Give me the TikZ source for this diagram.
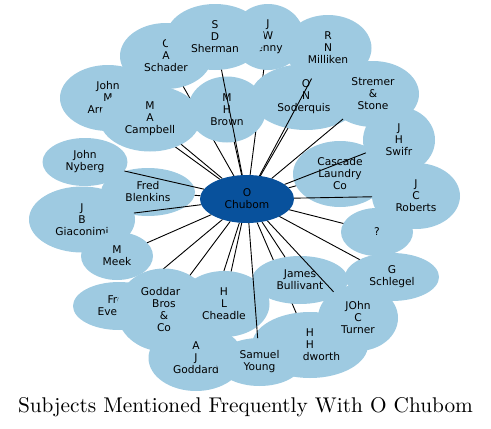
\documentclass[tikz,border=0pt]{standalone}
\usepackage{fontspec}
\newfontfamily\nodefont{DejaVu Sans}
\newfontfamily\titlefont[Extension=.otf]{lmroman10-regular}
\usetikzlibrary{shapes.geometric}
\definecolor{lb}{HTML}{9ECAE1}
\definecolor{db}{HTML}{08519C}
\begin{document}
\begin{tikzpicture}[x=1pt,y=-1pt,
  shp/.style={ellipse,inner sep=0pt,outer sep=0pt},
  bub/.style={shp,fill=lb,font=\nodefont\fontsize{10.67pt}{12pt}\selectfont,align=center,text=black},
  hub/.style={bub,fill=db},
  conn/.style={draw=black,line width=0.9pt}]
\path[use as bounding box] (0,0) rectangle (491,429);
% invisible shapes (for connectors)
\node[shp,minimum width=94pt,minimum height=48pt] (chubom) at (247,199) {};
\node[shp,minimum width=72pt,minimum height=66pt] (jenny) at (268,37) {};
\node[shp,minimum width=92pt,minimum height=66pt] (schader) at (166,56) {};
\node[shp,minimum width=98pt,minimum height=66pt] (sherman) at (215,37) {};
\node[shp,minimum width=87pt,minimum height=66pt] (milliken) at (328,48) {};
\node[shp,minimum width=96pt,minimum height=66pt] (johnm) at (108,98) {};
\node[shp,minimum width=101pt,minimum height=66pt] (campbell) at (150,118.5) {};
\node[shp,minimum width=111pt,minimum height=66pt] (soderquis) at (306,97) {};
\node[shp,minimum width=78pt,minimum height=66pt] (brown) at (227,109.5) {};
\node[shp,minimum width=92pt,minimum height=66pt] (stremer) at (373,94) {};
\node[shp,minimum width=94pt,minimum height=66pt] (cascade) at (340,174) {};
\node[shp,minimum width=72pt,minimum height=66pt] (swifr) at (399,140) {};
\node[shp,minimum width=88pt,minimum height=66pt] (roberts) at (416,196) {};
\node[shp,minimum width=72pt,minimum height=48pt] (quest) at (377,232) {};
\node[shp,minimum width=94pt,minimum height=48pt] (schlegel) at (392,277) {};
\node[shp,minimum width=116pt,minimum height=66pt] (woodworth) at (310,345) {};
\node[shp,minimum width=96pt,minimum height=48pt] (bullivant) at (300,280) {};
\node[shp,minimum width=80pt,minimum height=66pt] (turner) at (358,318) {};
\node[shp,minimum width=92pt,minimum height=48pt] (fre) at (119,306) {};
\node[shp,minimum width=95pt,minimum height=83pt] (bros) at (164,310) {};
\node[shp,minimum width=95pt,minimum height=66pt] (goddard) at (196,358) {};
\node[shp,minimum width=91pt,minimum height=66pt] (cheadle) at (224,304) {};
\node[shp,minimum width=86pt,minimum height=48pt] (young) at (259.5,362) {};
\node[shp,minimum width=106pt,minimum height=66pt] (giaconimi) at (82,219.5) {};
\node[shp,minimum width=72pt,minimum height=48pt] (meek) at (117,256) {};
\node[shp,minimum width=94pt,minimum height=48pt] (blenkins) at (148,192) {};
\node[shp,minimum width=85pt,minimum height=48pt] (nyberg) at (85,162) {};
% drawing, in stacking order
\node[bub,minimum width=72pt,minimum height=66pt] (jenny-v) at (jenny) {J\\W\\\phantom{J}enny};
\draw[conn] (chubom) -- (jenny);
\node[bub,minimum width=92pt,minimum height=66pt] (schader-v) at (schader) {C\\A\\Schader};
\draw[conn] (chubom) -- (schader);
\node[bub,minimum width=98pt,minimum height=66pt] (sherman-v) at (sherman) {S\\D\\Sherman};
\node[bub,minimum width=87pt,minimum height=66pt] (milliken-v) at (milliken) {R\\N\\Milliken};
\node[bub,minimum width=96pt,minimum height=66pt] (johnm-v) at (johnm) {John\\M\\Arr\phantom{owst}};
\draw[conn] (chubom) -- (johnm);
\node[bub,minimum width=101pt,minimum height=66pt] (campbell-v) at (campbell) {M\\A\\Campbell};
\draw[conn] (chubom) -- (campbell);
\node[bub,minimum width=111pt,minimum height=66pt] (soderquis-v) at (soderquis) {O\\N\\Soderquis\phantom{t}};
\draw[conn] (chubom) -- (soderquis);
\node[bub,minimum width=78pt,minimum height=66pt] (brown-v) at (brown) {M\\H\\Brown};
\draw[conn] (chubom) -- (brown);
\draw[conn] (chubom) -- (sherman);
\draw[conn] (chubom) -- (milliken);
\node[bub,minimum width=92pt,minimum height=66pt] (stremer-v) at (stremer) {Stremer\\\&\\Stone};
\draw[conn] (chubom) -- (stremer);
\node[bub,minimum width=94pt,minimum height=66pt] (cascade-v) at (cascade) {Cascade\\Laundry\\Co};
\draw[conn] (chubom) -- (cascade);
\node[bub,minimum width=72pt,minimum height=66pt] (swifr-v) at (swifr) {J\\H\\Swifr};
\draw[conn] (chubom) -- (swifr);
\node[bub,minimum width=88pt,minimum height=66pt] (roberts-v) at (roberts) {J\\C\\Roberts};
\draw[conn] (chubom) -- (roberts);
\node[bub,minimum width=72pt,minimum height=48pt] (quest-v) at (quest) {?};
\draw[conn] (chubom) -- (quest);
\node[bub,minimum width=94pt,minimum height=48pt] (schlegel-v) at (schlegel) {G\\Schlegel};
\draw[conn] (chubom) -- (schlegel);
\node[bub,minimum width=116pt,minimum height=66pt] (woodworth-v) at (woodworth) {H\\H\\\phantom{Woo}dworth};
\draw[conn] (chubom) -- (woodworth);
\node[bub,minimum width=96pt,minimum height=48pt] (bullivant-v) at (bullivant) {James\\Bullivant};
\draw[conn] (chubom) -- (bullivant);
\node[bub,minimum width=80pt,minimum height=66pt] (turner-v) at (turner) {JOhn\\C\\Turner};
\draw[conn] (chubom) -- (turner);
\node[bub,minimum width=92pt,minimum height=48pt] (fre-v) at (fre) {Fre\phantom{d}\\Eve\phantom{rson}};
\draw[conn] (chubom) -- (fre);
\node[bub,minimum width=95pt,minimum height=83pt] (bros-v) at (bros) {Goddar\phantom{d}\\Bros\\\&\\Co};
\draw[conn] (chubom) -- (bros);
\node[bub,minimum width=95pt,minimum height=66pt] (goddard-v) at (goddard) {A\\J\\Goddard};
\draw[conn] (chubom) -- (goddard);
\node[bub,minimum width=91pt,minimum height=66pt] (cheadle-v) at (cheadle) {H\\L\\Cheadle};
\draw[conn] (chubom) -- (cheadle);
\node[bub,minimum width=86pt,minimum height=48pt] (young-v) at (young) {Samuel\\Young};
\draw[conn] (chubom) -- (young);
\node[bub,minimum width=106pt,minimum height=66pt] (giaconimi-v) at (giaconimi) {J\\B\\Giaconimi};
\node[bub,minimum width=72pt,minimum height=48pt] (meek-v) at (meek) {M\\Meek};
\draw[conn] (chubom) -- (meek);
\node[bub,minimum width=94pt,minimum height=48pt] (blenkins-v) at (blenkins) {Fred\\Blenkins};
\draw[conn] (chubom) -- (blenkins);
\draw[conn] (chubom) -- (giaconimi);
\node[bub,minimum width=85pt,minimum height=48pt] (nyberg-v) at (nyberg) {John\\Nyberg};
\draw[conn] (chubom) -- (nyberg);
\node[hub,minimum width=94pt,minimum height=48pt] (chubom-v) at (chubom) {O\\Chubom};
\node[font=\titlefont\fontsize{21.3pt}{24pt}\selectfont,anchor=base,inner sep=0pt] (title) at (245.5,412) {Subjects Mentioned Frequently With O Chubom};
\end{tikzpicture}
\end{document}
